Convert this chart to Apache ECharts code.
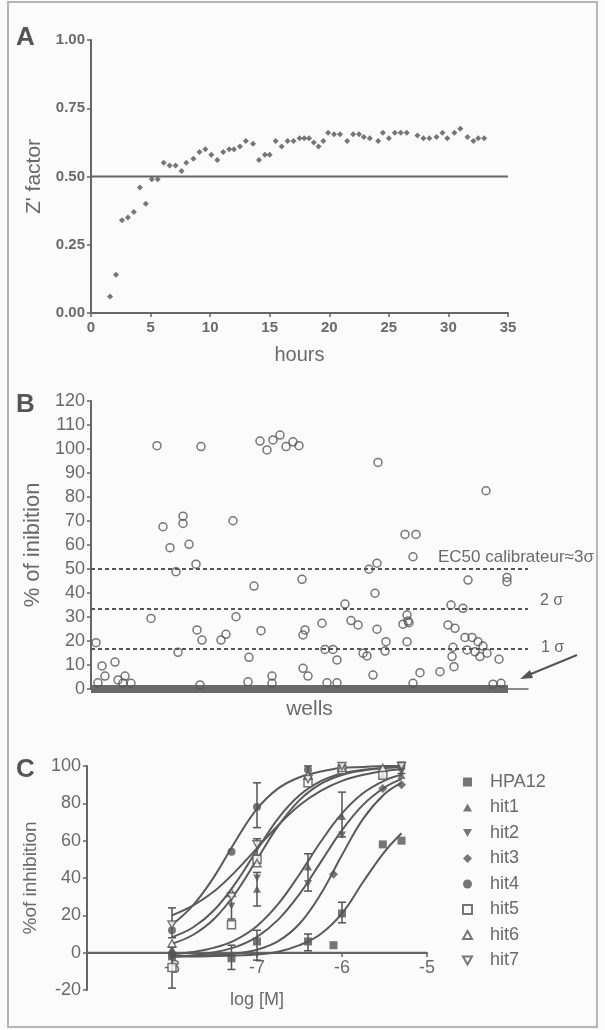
<!DOCTYPE html>
<html><head><meta charset="utf-8">
<script src="https://cdn.jsdelivr.net/npm/echarts@6/dist/echarts.min.js"></script>
<style>html,body{margin:0;padding:0;background:#fbfbfb}#c{width:605px;height:1030px}</style>
</head><body><div id="c"></div>
<script>
// ---------- Panel A : Z' factor vs hours ----------
const hours = [1.6,2.1,2.6,3.1,3.6,4.1,4.6,5.1,5.6,6.1,6.6,7.1,7.6,8.0,8.6,9.1,9.6,10.1,10.6,11.1,11.6,12.0,12.5,13.0,13.6,14.1,14.6,15.0,15.5,16.0,16.5,17.0,17.5,17.9,18.3,18.7,19.1,19.5,19.9,20.4,20.9,21.5,22.0,22.5,22.9,23.4,24.1,24.5,25.0,25.5,26.0,26.5,27.4,27.9,28.4,29.0,29.5,29.9,30.5,31.0,31.6,32.1,32.5,33.0];
const zFactor = [0.06,0.14,0.34,0.35,0.37,0.46,0.40,0.49,0.49,0.55,0.54,0.54,0.52,0.55,0.565,0.59,0.60,0.58,0.56,0.59,0.60,0.60,0.61,0.63,0.62,0.56,0.58,0.58,0.63,0.61,0.63,0.63,0.64,0.64,0.64,0.625,0.61,0.63,0.66,0.655,0.655,0.63,0.655,0.655,0.645,0.64,0.63,0.66,0.64,0.66,0.66,0.66,0.65,0.64,0.64,0.645,0.66,0.64,0.66,0.675,0.645,0.63,0.64,0.64];
const zThreshold = 0.5;
const hoursRange = [0, 35];

// ---------- Panel B : % of inhibition per well ----------
const wells = [5,7,11,14,24,27,32,34,40,60,66,72,79,85,87,92,92,98,105,106,109,110,111,130,135,142,145,157,158,163,169,170,176,181,181,182,189,195,202,208,211,212,212,214,217,231,234,236,242,246,246,254,260,267,272,276,278,282,284,286,286,287,294,295,312,314,316,317,316,318,322,322,325,329,349,357,360,361,362,363,364,372,374,376,377,381,384,387,389,392,395,396,402,408,410,416,416];
const inhibition = [19.3,2.6,9.6,5.4,11.2,3.8,2.5,5.4,2.4,29.4,101.4,67.6,58.9,48.9,15.3,72,69,60.3,52,24.6,1.7,101,20.4,20.4,22.8,70.1,30.1,3,13.2,42.9,103.3,24.3,99.6,5.4,2.4,103.8,105.8,101,103,101.4,45.7,22.5,8.6,24.6,5.4,27.4,16.5,2.6,16.5,12.1,2.6,35.4,28.5,26.7,14.9,13.8,49.9,5.8,39.9,52.4,24.9,94.4,15.8,19.7,27,64.4,30.8,28.3,19.7,27.6,55.1,2.4,64.4,6.8,7.2,26.7,35,13.5,17.4,9.3,25.3,33.6,21.5,16.3,45.4,21.5,15.5,19.7,13.5,17.9,82.6,14.9,2,12.4,2.4,46.5,44.7];
const inactiveWells = [0, 417];      // wells with ~0 % inhibition (thick band)
const wellsAxisMax = 437;
const sigmaLevels = [50, 33.3, 16.7];
const sigmaLabels = ['EC50 calibrateur\u22483\u03c3', '2 \u03c3', '1 \u03c3'];

// ---------- Panel C : dose-response ----------
const compounds = ['HPA12','hit1','hit2','hit3','hit4','hit5','hit6','hit7'];
const concLog = [-8, -7.3, -7, -6.4, -6.1, -6, -5.52, -5.3];
const hpa12Pts = [-2, -3, 6, 6, 4, 21, 58, 60];
const hit1Pts  = [2, null, 34, 46, null, 73, 95, 95];
const hit2Pts  = [-3, 25, 40, 37, null, 63, null, 97];
const hit3Pts  = [0, null, null, null, 42, null, 88, 90];
const hit4Pts  = [12, 54, 78, 98, null, 100, null, 100];
const hit5Pts  = [-8, 15, 50, 91, null, 98, 95, null];
const hit6Pts  = [5, 32, 48, 95, null, 99, 99, null];
const hit7Pts  = [15, 30, 58, 93, null, 100, null, 100];
const fitLog = [-8, -7.75, -7.5, -7.25, -7, -6.75, -6.5, -6.25, -6, -5.75, -5.5, -5.3];
const hpa12Fit = [-2, -2, -1.8, -1.5, -1, 0.5, 4, 10, 21, 38, 54, 64];
const hit1Fit  = [-0.8, 0.4, 2.7, 6.9, 14.3, 26.1, 42, 59.4, 74.6, 85.5, 92.2, 95.3];
const hit2Fit  = [-2.2, -1.4, 0.2, 3.1, 8.5, 17.7, 31.4, 48.5, 65.6, 79.3, 88.5, 93];
const hit3Fit  = [-1.9, -1.7, -1.3, -0.4, 1.6, 6.2, 15.5, 31.4, 52.3, 71.8, 85, 91];
const hit4Fit  = [15, 25.5, 41, 60, 77, 88, 94, 97, 99, 99.5, 100, 100];
const hit5Fit  = [4.8, 9.6, 18.3, 32.1, 50, 67.9, 81.7, 90.4, 95.2, 97.6, 98.9, 99.4];
const hit6Fit  = [8.3, 13.6, 23, 37.4, 55, 72, 84.3, 91.9, 96, 98, 99, 99.4];
const hit7Fit  = [20, 25.3, 33, 43.7, 56, 68.3, 79, 86.7, 92, 95.3, 97.3, 98.2];
const errorBars = [[-8,-19,3],[-8,8,24],[-7.3,-9,4],[-7.3,18,32],[-7,67,91],[-7,25,43],[-7,52,61],[-7,-4,12],[-6.4,33,53],[-6.4,1,10],[-6.4,94,100],[-6,62,86],[-6,16,27],[-5.3,96,102]];

const ptsList = [hpa12Pts,hit1Pts,hit2Pts,hit3Pts,hit4Pts,hit5Pts,hit6Pts,hit7Pts];
const fitList = [hpa12Fit,hit1Fit,hit2Fit,hit3Fit,hit4Fit,hit5Fit,hit6Fit,hit7Fit];
const DOWN = 'path://M0,0L10,0L5,9Z';
const UP = 'path://M5,0L10,9L0,9Z';
const symbols = ['rect', UP, DOWN, 'diamond', 'circle', 'rect', UP, DOWN];
const hollow = [false,false,false,false,false,true,true,true];

const INK = '#555';
const TXT = '#6a6a6a';
const FONT = '"Liberation Sans", Arial, sans-serif';

const chart = echarts.init(document.getElementById('c'), null, {renderer:'canvas'});

const axisCommon = {
  axisLine:{lineStyle:{color:'#666', width:2}},
  axisTick:{lineStyle:{color:'#666', width:1.5}, length:4},
  splitLine:{show:false}
};

const series = [];
// Panel A
series.push({type:'line', xAxisIndex:0, yAxisIndex:0, data:[[hoursRange[0],zThreshold],[hoursRange[1],zThreshold]],
  symbol:'none', lineStyle:{color:'#666', width:2}, silent:true, z:1});
series.push({type:'scatter', xAxisIndex:0, yAxisIndex:0, data:hours.map((h,i)=>[h,zFactor[i]]),
  symbol:'diamond', symbolSize:6, itemStyle:{color:INK}, z:3});
// Panel B
sigmaLevels.forEach(l=>{
  series.push({type:'line', xAxisIndex:1, yAxisIndex:1, data:[[0,l],[wellsAxisMax,l]], symbol:'none',
    lineStyle:{color:INK, width:2, type:[4,3]}, silent:true, z:1});
});
series.push({type:'line', xAxisIndex:1, yAxisIndex:1, data:[[inactiveWells[0],0],[inactiveWells[1],0]], symbol:'none',
  lineStyle:{color:'#6a6a6a', width:8}, silent:true, z:2});
series.push({type:'scatter', xAxisIndex:1, yAxisIndex:1, data:wells.map((w,i)=>[w,inhibition[i]]),
  symbol:'circle', symbolSize:8, itemStyle:{color:'rgba(0,0,0,0)', borderColor:INK, borderWidth:1.5}, z:3});
// Panel C zero line
series.push({type:'line', xAxisIndex:2, yAxisIndex:2, data:[[-9,0],[-5,0]], symbol:'none',
  lineStyle:{color:'#666', width:2}, silent:true, z:1});
// Panel C curves
fitList.forEach((f,k)=>{
  series.push({type:'line', xAxisIndex:2, yAxisIndex:2, data:fitLog.map((x,i)=>[x,f[i]]), symbol:'none', smooth:0.4,
    lineStyle:{color:'#5a5a5a', width:2}, silent:true, z:2});
});
// Panel C error bars
series.push({type:'custom', xAxisIndex:2, yAxisIndex:2, data:errorBars, encode:{x:0, y:[1,2]}, z:3,
  renderItem:function(params, api){
    const x=api.value(0), lo=api.value(1), hi=api.value(2);
    const a=api.coord([x,lo]), b=api.coord([x,hi]); const w=4;
    const st={stroke:'#555', lineWidth:1.5};
    return {type:'group', children:[
      {type:'line', shape:{x1:a[0],y1:a[1],x2:b[0],y2:b[1]}, style:st},
      {type:'line', shape:{x1:a[0]-w,y1:a[1],x2:a[0]+w,y2:a[1]}, style:st},
      {type:'line', shape:{x1:b[0]-w,y1:b[1],x2:b[0]+w,y2:b[1]}, style:st}
    ]};
  }});
// Panel C points
compounds.forEach((name,k)=>{
  const d=[]; ptsList[k].forEach((v,i)=>{ if(v!==null) d.push([concLog[i],v]); });
  series.push({type:'scatter', name:name, xAxisIndex:2, yAxisIndex:2, data:d, symbol:symbols[k],
    symbolSize: symbols[k]==='circle'?8:(symbols[k]==='diamond'?9:8), symbolKeepAspect:true,
    itemStyle: hollow[k] ? {color:'#fbfbfb', borderColor:INK, borderWidth:1.5} : {color:INK}, z:4});
});

const option = {
  animation:false,
  backgroundColor:'#fbfbfb',
  textStyle:{fontFamily:FONT},
  grid:[
    {left:91, top:40, width:417, height:273, outerBoundsMode:'none'},
    {left:91, top:401, width:437, height:288, outerBoundsMode:'none'},
    {left:87, top:766, width:340, height:224, outerBoundsMode:'none'}
  ],
  xAxis:[
    Object.assign({}, axisCommon, {gridIndex:0, type:'value', min:hoursRange[0], max:hoursRange[1], interval:5,
      axisLabel:{color:TXT, fontSize:15, fontWeight:'bold', margin:7, fontFamily:FONT},
      name:'hours', nameLocation:'middle', nameGap:32, nameTextStyle:{color:TXT, fontSize:20, fontFamily:FONT}}),
    Object.assign({}, axisCommon, {gridIndex:1, type:'value', min:0, max:wellsAxisMax,
      axisLine:{lineStyle:{color:'#666', width:1.5}}, axisTick:{show:false}, axisLabel:{show:false},
      name:'wells', nameLocation:'middle', nameGap:10, nameTextStyle:{color:TXT, fontSize:21, fontFamily:FONT}}),
    Object.assign({}, axisCommon, {gridIndex:2, type:'value', min:-9, max:-5, interval:1, offset:-37,
      axisLine:{onZero:false, lineStyle:{color:'#666', width:2}},
      axisLabel:{color:TXT, fontSize:18, margin:6, fontFamily:FONT, formatter:v=> v===-9?'':String(v)},
      name:'log [M]', nameLocation:'middle', nameGap:38, nameTextStyle:{color:TXT, fontSize:18, fontFamily:FONT}})
  ],
  yAxis:[
    Object.assign({}, axisCommon, {gridIndex:0, type:'value', min:0, max:1, interval:0.25,
      axisLabel:{color:TXT, fontSize:15, fontWeight:'bold', margin:6, formatter:v=>v.toFixed(2), fontFamily:FONT},
      name:"Z' factor", nameLocation:'middle', nameGap:44, nameTextStyle:{color:TXT, fontSize:21, fontFamily:FONT}}),
    Object.assign({}, axisCommon, {gridIndex:1, type:'value', min:0, max:120, interval:10,
      axisLabel:{color:TXT, fontSize:18, margin:6, fontFamily:FONT},
      name:'% of inibition', nameLocation:'middle', nameGap:43, nameTextStyle:{color:TXT, fontSize:22, fontFamily:FONT}}),
    Object.assign({}, axisCommon, {gridIndex:2, type:'value', min:-20, max:100, interval:20,
      axisLabel:{color:TXT, fontSize:18, margin:6, fontFamily:FONT},
      name:'%of inhibition', nameLocation:'middle', nameGap:39, nameTextStyle:{color:TXT, fontSize:19, fontFamily:FONT}})
  ],
  legend:{
    data:compounds, orient:'vertical', left:457, top:768, itemGap:7.5, itemWidth:9, itemHeight:9,
    textStyle:{color:TXT, fontSize:18, fontFamily:FONT, padding:[0,0,0,13]}, selectedMode:false
  },
  graphic:[
    {type:'rect', shape:{x:8, y:2, width:589, height:1025}, style:{fill:'none', stroke:'#b5b5b5', lineWidth:2}, silent:true},
    {type:'text', x:16, y:38, style:{text:'A', font:'bold 26px '+FONT, fill:'#555', verticalAlign:'middle'}},
    {type:'text', x:16, y:405, style:{text:'B', font:'bold 26px '+FONT, fill:'#555', verticalAlign:'middle'}},
    {type:'text', x:16, y:770, style:{text:'C', font:'bold 26px '+FONT, fill:'#555', verticalAlign:'middle'}},
    {type:'text', x:438, y:557, style:{text:sigmaLabels[0], font:'17px '+FONT, fill:TXT, verticalAlign:'middle'}},
    {type:'text', x:540, y:601, style:{text:sigmaLabels[1], font:'16px '+FONT, fill:TXT, verticalAlign:'middle'}},
    {type:'text', x:541, y:648, style:{text:sigmaLabels[2], font:'16px '+FONT, fill:TXT, verticalAlign:'middle'}},
    {type:'line', shape:{x1:577, y1:655, x2:526, y2:676}, style:{stroke:'#555', lineWidth:2}},
    {type:'polygon', shape:{points:[[520,679],[530,670],[533,678]]}, style:{fill:'#555'}}
  ],
  series:series
};
chart.setOption(option);
</script></body></html>
